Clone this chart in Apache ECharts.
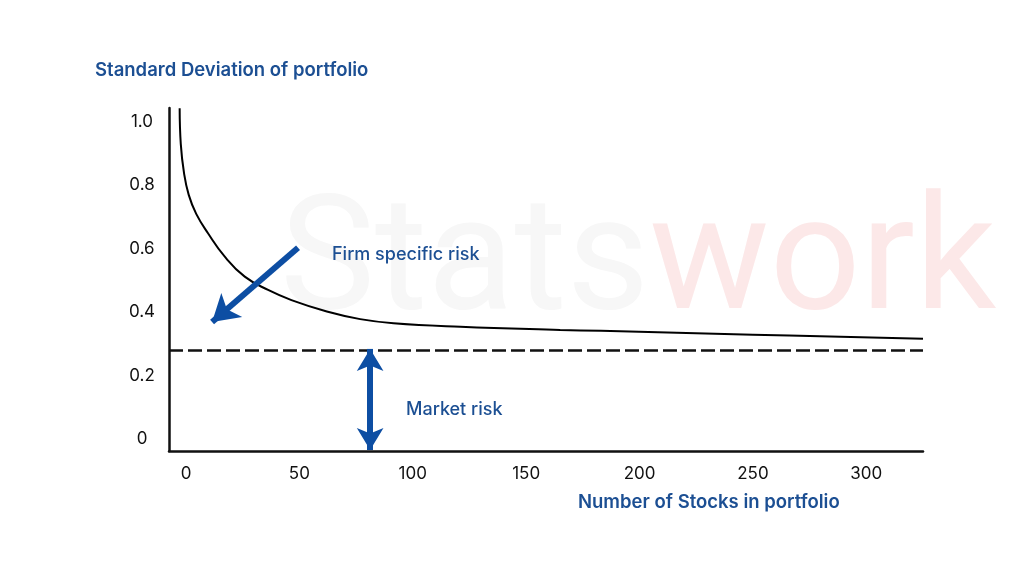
<!DOCTYPE html>
<html>
<head>
<meta charset="utf-8">
<script src="https://cdn.jsdelivr.net/npm/echarts@6/dist/echarts.min.js"></script>
<style>
  html, body { margin: 0; padding: 0; background: #fff; }
  #chart { width: 1024px; height: 576px; }
</style>
</head>
<body>
<div id="chart"></div>
<script>
// Curva de riesgo (número de acciones, desviación estándar)
const stockCounts = [-2.8, -2.3, -0.9, 1.2, 4.5, 9.7, 17.1, 25.9, 36.2, 46.5, 62.1, 76.8, 91.5, 121, 165, 183, 250, 325];
const stdDev = [1.043, 0.93, 0.84, 0.77, 0.71, 0.649, 0.575, 0.512, 0.470, 0.438, 0.402, 0.378, 0.365, 0.354, 0.344, 0.341, 0.329, 0.316];
const marketRisk = 0.284;
const xTicks = [0, 50, 100, 150, 200, 250, 300];
const yTicks = [0, 0.2, 0.4, 0.6, 0.8, 1.0];
// Flechas de anotación [x, y]
const firmArrow = [[49.4, 0.603], [11.5, 0.369]];
const marketArrow = [[81.2, 0.284], [81.2, -0.035]];

const blue = '#0d4ea3';
const textBlue = '#1c4f93';
const font = 'Inter';

const chart = echarts.init(document.getElementById('chart'));

const option = {
    animation: false,
    backgroundColor: '#fff',
    grid: { left: 169, right: 101, top: 108, bottom: 125 },
    graphic: [
        {
            type: 'text', left: 280, top: 188, z: -10, silent: true,
            style: {
                text: '{a|Stats}{b|work}',
                rich: {
                    a: { fontSize: 160, fontFamily: 'Roboto', fontWeight: 400, fill: '#f7f7f7' },
                    b: { fontSize: 160, fontFamily: 'Roboto', fontWeight: 400, fill: '#fce8e8' }
                }
            }
        },
        {
            type: 'text', left: 95, top: 61,
            style: { text: 'Standard Deviation of portfolio', fontSize: 18.5, fontWeight: 600, fontFamily: font, fill: textBlue }
        },
        {
            type: 'text', left: 578, top: 493,
            style: { text: 'Number of Stocks in portfolio', fontSize: 18.5, fontWeight: 600, fontFamily: font, fill: textBlue }
        },
        {
            type: 'text', left: 332, top: 246,
            style: { text: 'Firm specific risk', fontSize: 18, fontWeight: 500, fontFamily: font, fill: textBlue }
        },
        {
            type: 'text', left: 406, top: 401,
            style: { text: 'Market risk', fontSize: 18, fontWeight: 500, fontFamily: font, fill: textBlue }
        }
    ],
    xAxis: {
        type: 'value',
        min: -7.5,
        max: 325,
        splitLine: { show: false },
        axisTick: { show: false },
        axisLine: { show: true, onZero: false, lineStyle: { color: '#111', width: 2.5 } },
        axisLabel: {
            customValues: xTicks,
            margin: 14,
            fontSize: 17,
            fontFamily: font,
            color: '#111'
        }
    },
    yAxis: {
        type: 'value',
        min: -0.038,
        max: 1.044,
        splitLine: { show: false },
        axisTick: { show: false },
        axisLine: { show: true, onZero: false, lineStyle: { color: '#111', width: 2.5 } },
        axisLabel: {
            customValues: yTicks,
            formatter: v => v === 0 ? '0' : v.toFixed(1),
            align: 'center',
            margin: 27,
            fontSize: 17,
            fontFamily: font,
            color: '#111'
        }
    },
    series: [
        {
            type: 'line',
            data: stockCounts.map((x, i) => [x, stdDev[i]]),
            smooth: 0.45,
            showSymbol: false,
            lineStyle: { color: '#000', width: 2 },
            clip: false,
            markLine: {
                silent: true,
                symbol: 'none',
                label: { show: false },
                lineStyle: { color: '#111', type: [14, 5], width: 2.5 },
                data: [{ yAxis: marketRisk }]
            }
        },
        {
            type: 'line',
            data: [],
            markLine: {
                silent: true,
                label: { show: false },
                lineStyle: { color: blue, type: 'solid', width: 6 },
                data: [
                    [
                        { coord: firmArrow[0], symbol: 'none' },
                        { coord: firmArrow[1], symbol: 'arrow', symbolSize: [24, 26] }
                    ],
                    [
                        { coord: marketArrow[0], symbol: 'arrow', symbolSize: [20, 22] },
                        { coord: marketArrow[1], symbol: 'arrow', symbolSize: [20, 22] }
                    ]
                ]
            }
        }
    ]
};

chart.setOption(option);
</script>
</body>
</html>
